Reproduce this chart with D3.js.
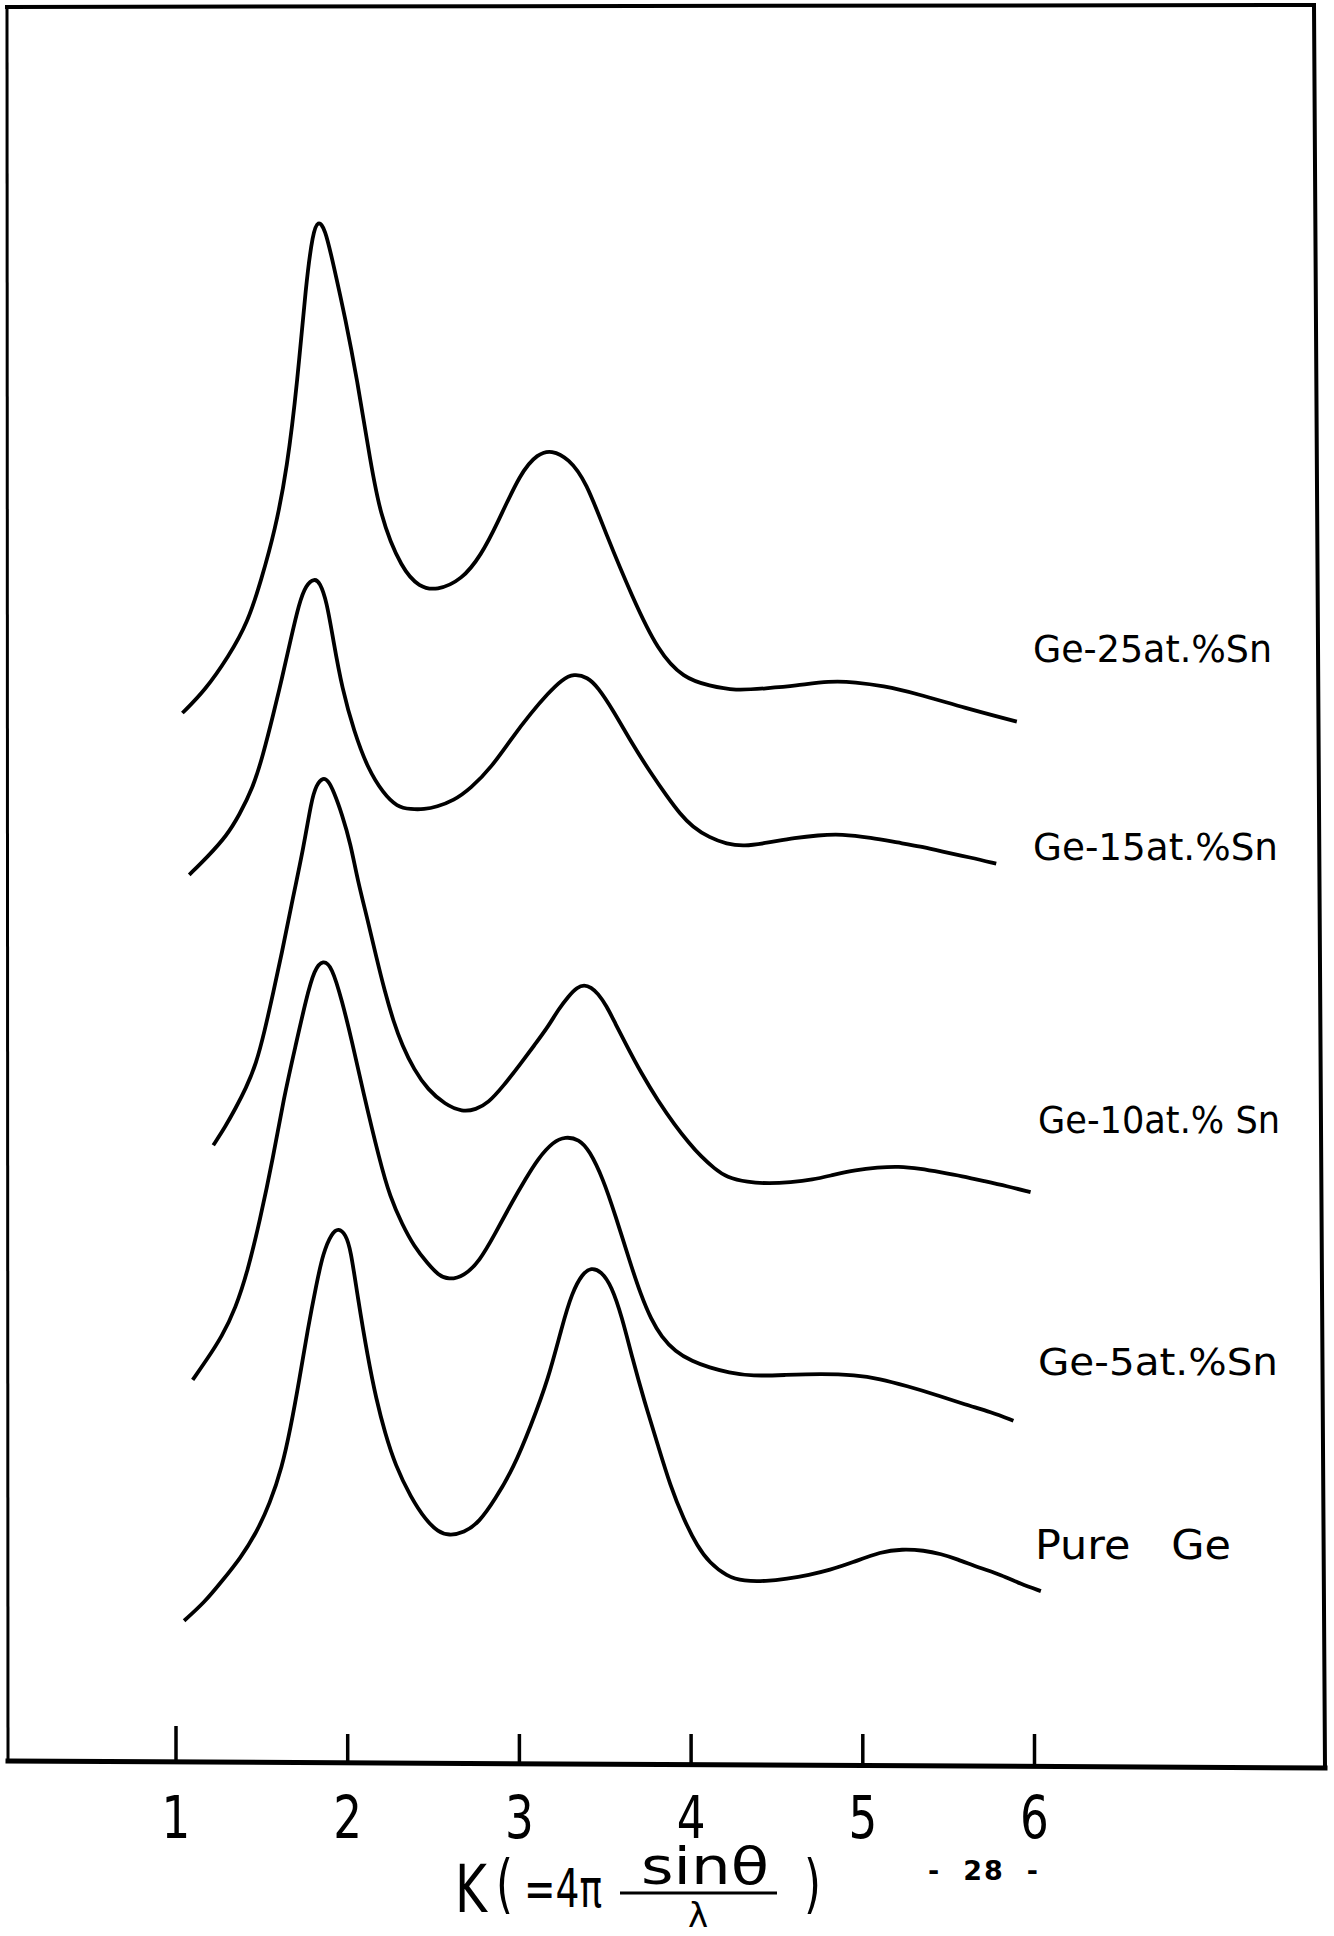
<!DOCTYPE html>
<html>
<head>
<meta charset="utf-8">
<script src="https://cdn.jsdelivr.net/npm/d3@7"></script>
<style>
  html, body { margin: 0; padding: 0; background: #fff; }
  svg { display: block; }
  text { font-family: 'DejaVu Sans', 'Liberation Sans', sans-serif; fill: #000; }
</style>
</head>
<body>
<div id="canvas"></div>
<script>
'use strict';

// Tick values on the K axis
var K_TICKS = [1, 2, 3, 4, 5, 6];

// Curve names, top to bottom
var SERIES_NAMES = ['Ge-25at.%Sn', 'Ge-15at.%Sn', 'Ge-10at.% Sn', 'Ge-5at.%Sn', 'Pure   Ge'];

// Each curve: [K, intensity (arbitrary units, offset already included)]
var GE25 = [
  [1.04, 8.51], [1.17, 8.69], [1.31, 8.97], [1.42, 9.24], [1.50, 9.59], [1.58, 9.99],
  [1.65, 10.49], [1.71, 11.19], [1.76, 11.99], [1.80, 12.40], [1.83, 12.50],
  [1.87, 12.44], [1.92, 12.14], [1.99, 11.70], [2.06, 11.19], [2.12, 10.68], [2.19, 10.10],
  [2.32, 9.67], [2.42, 9.53], [2.52, 9.50], [2.67, 9.59], [2.78, 9.79], [2.87, 10.03],
  [3.01, 10.46], [3.11, 10.61], [3.19, 10.64], [3.29, 10.57], [3.39, 10.39], [3.51, 9.95],
  [3.66, 9.45], [3.81, 9.01], [3.96, 8.79], [4.11, 8.73], [4.26, 8.69], [4.44, 8.71],
  [4.61, 8.73], [4.81, 8.77], [4.96, 8.76], [5.12, 8.73], [5.31, 8.67], [5.60, 8.55],
  [5.90, 8.44]
];

var GE15 = [
  [1.08, 7.20], [1.19, 7.35], [1.30, 7.52], [1.37, 7.68], [1.45, 7.90], [1.51, 8.17],
  [1.57, 8.50], [1.62, 8.79], [1.67, 9.10], [1.72, 9.40], [1.76, 9.55], [1.81, 9.60],
  [1.84, 9.57], [1.88, 9.42], [1.92, 9.09], [1.97, 8.71], [2.04, 8.36], [2.12, 8.06],
  [2.21, 7.86], [2.29, 7.75], [2.37, 7.73], [2.45, 7.73], [2.52, 7.75], [2.62, 7.80],
  [2.72, 7.90], [2.84, 8.07], [2.96, 8.31], [3.07, 8.51], [3.17, 8.67], [3.25, 8.78],
  [3.32, 8.83], [3.40, 8.80], [3.46, 8.72], [3.55, 8.53], [3.66, 8.26], [3.77, 8.02],
  [3.86, 7.84], [3.94, 7.69], [4.01, 7.59], [4.11, 7.50], [4.21, 7.45], [4.31, 7.43],
  [4.45, 7.46], [4.61, 7.50], [4.74, 7.52], [4.88, 7.53], [5.05, 7.50], [5.21, 7.46],
  [5.34, 7.43], [5.46, 7.39], [5.63, 7.34], [5.78, 7.29]
];

var GE10 = [
  [1.22, 5.01], [1.29, 5.16], [1.35, 5.31], [1.41, 5.47], [1.47, 5.67], [1.52, 5.94],
  [1.57, 6.25], [1.62, 6.57], [1.67, 6.92], [1.75, 7.45], [1.79, 7.79], [1.82, 7.93],
  [1.86, 7.99], [1.89, 7.96], [1.92, 7.88], [1.97, 7.69], [2.02, 7.45], [2.06, 7.16],
  [2.12, 6.83], [2.17, 6.53], [2.22, 6.25], [2.27, 6.01], [2.32, 5.82], [2.39, 5.62],
  [2.47, 5.46], [2.57, 5.34], [2.67, 5.28], [2.75, 5.30], [2.82, 5.35], [2.91, 5.49],
  [3.01, 5.67], [3.09, 5.82], [3.17, 5.97], [3.23, 6.11], [3.29, 6.22], [3.34, 6.29],
  [3.38, 6.31], [3.42, 6.29], [3.46, 6.24], [3.51, 6.14], [3.56, 6.00], [3.63, 5.81],
  [3.71, 5.60], [3.81, 5.37], [3.91, 5.17], [3.99, 5.03], [4.06, 4.92], [4.14, 4.82],
  [4.21, 4.75], [4.33, 4.71], [4.46, 4.70], [4.58, 4.71], [4.71, 4.73], [4.83, 4.77],
  [4.96, 4.81], [5.09, 4.83], [5.21, 4.84], [5.34, 4.82], [5.46, 4.79], [5.58, 4.76],
  [5.71, 4.72], [5.84, 4.68], [5.98, 4.63]
];

var GE5 = [
  [1.10, 3.11], [1.18, 3.27], [1.27, 3.46], [1.35, 3.69], [1.42, 3.99], [1.49, 4.39],
  [1.57, 4.92], [1.63, 5.39], [1.70, 5.82], [1.76, 6.19], [1.81, 6.44], [1.86, 6.51],
  [1.91, 6.46], [1.97, 6.18], [2.03, 5.84], [2.09, 5.46], [2.19, 4.88], [2.25, 4.59],
  [2.32, 4.37], [2.39, 4.19], [2.47, 4.05], [2.53, 3.96], [2.59, 3.92], [2.68, 3.95],
  [2.77, 4.07], [2.86, 4.29], [2.96, 4.55], [3.04, 4.74], [3.11, 4.90], [3.20, 5.04],
  [3.27, 5.08], [3.35, 5.06], [3.41, 4.97], [3.49, 4.74], [3.56, 4.45], [3.65, 4.05],
  [3.71, 3.80], [3.77, 3.60], [3.83, 3.46], [3.91, 3.34], [4.01, 3.26], [4.11, 3.21],
  [4.22, 3.17], [4.36, 3.14], [4.55, 3.15], [4.76, 3.16], [4.96, 3.15], [5.10, 3.12],
  [5.26, 3.06], [5.43, 2.99], [5.60, 2.91], [5.75, 2.85], [5.88, 2.78]
];

var PURE_GE = [
  [1.05, 1.16], [1.17, 1.31], [1.27, 1.48], [1.38, 1.67], [1.47, 1.87], [1.55, 2.11],
  [1.62, 2.40], [1.67, 2.72], [1.72, 3.10], [1.77, 3.52], [1.82, 3.88], [1.86, 4.14],
  [1.91, 4.30], [1.95, 4.34], [1.99, 4.29], [2.02, 4.17], [2.06, 3.79], [2.12, 3.29],
  [2.17, 2.95], [2.22, 2.68], [2.28, 2.42], [2.37, 2.16], [2.46, 1.97], [2.53, 1.88],
  [2.59, 1.85], [2.68, 1.87], [2.77, 1.96], [2.86, 2.14], [2.97, 2.40], [3.07, 2.74],
  [3.17, 3.11], [3.25, 3.54], [3.31, 3.82], [3.37, 3.97], [3.42, 4.02], [3.48, 3.99],
  [3.54, 3.87], [3.60, 3.62], [3.66, 3.29], [3.73, 2.94], [3.81, 2.58], [3.88, 2.26],
  [3.96, 1.98], [4.04, 1.76], [4.11, 1.63], [4.21, 1.52], [4.31, 1.48], [4.44, 1.48],
  [4.56, 1.50], [4.69, 1.53], [4.81, 1.57], [4.94, 1.63], [5.11, 1.72], [5.23, 1.74],
  [5.36, 1.73], [5.46, 1.70], [5.55, 1.66], [5.68, 1.59], [5.81, 1.53], [5.92, 1.46],
  [6.04, 1.40]
];

var SERIES = [GE25, GE15, GE10, GE5, PURE_GE];

// Layout constants, pixels
var WIDTH = 1334;
var HEIGHT = 1936;
var AXIS_Y = 1764;
var X_AT_1 = 175.5;
var X_STEP = 171.7;
var Y_UNIT = 123.5;
// label left edge, baseline, stretched width
var LABEL_LAYOUT = [
  [1033, 662, 239], [1033, 860, 245], [1038, 1133, 242], [1038, 1375, 240], [1035, 1559, 196]
];

var x = d3.scaleLinear()
  .domain([1, 6])
  .range([X_AT_1, X_AT_1 + 5 * X_STEP]);

var y = d3.scaleLinear()
  .domain([0, 10])
  .range([AXIS_Y, AXIS_Y - 10 * Y_UNIT]);

var svg = d3.select('#canvas').append('svg')
  .attr('width', WIDTH)
  .attr('height', HEIGHT);

svg.append('rect')
  .attr('width', WIDTH)
  .attr('height', HEIGHT)
  .attr('fill', '#fff');

// hand drawn frame, slightly skewed like the scan
var frame = svg.append('g')
  .attr('fill', 'none')
  .attr('stroke', '#000')
  .attr('stroke-linecap', 'square');
frame.append('path').attr('d', 'M7,7 L1314,5').attr('stroke-width', 4);
frame.append('path').attr('d', 'M7,7 L8,1761').attr('stroke-width', 3);
frame.append('path').attr('d', 'M1314,5 L1325,1768').attr('stroke-width', 4);
frame.append('path').attr('d', 'M8,1761 L1325,1768').attr('stroke-width', 5);

var xAxis = d3.axisBottom(x)
  .tickValues(K_TICKS)
  .tickSize(-30)
  .tickFormat(d3.format('d'));

var axisG = svg.append('g')
  .attr('transform', 'translate(0,' + AXIS_Y + ')')
  .call(xAxis);

axisG.select('.domain').remove();
axisG.selectAll('.tick line')
  .attr('stroke', '#000')
  .attr('stroke-width', 3.5)
  .attr('y2', function(d) { return d === 1 ? -38 : -30; });
axisG.selectAll('.tick text')
  .attr('y', 74)
  .attr('dy', null)
  .attr('font-size', 58)
  .attr('font-family', "'DejaVu Sans', sans-serif")
  .attr('transform', 'scale(0.78,1)')
  .attr('fill', '#000');

var line = d3.line()
  .x(function(d) { return x(d[0]); })
  .y(function(d) { return y(d[1]); })
  .curve(d3.curveBasis);

svg.append('g')
  .selectAll('path')
  .data(SERIES)
  .enter()
  .append('path')
  .attr('d', line)
  .attr('fill', 'none')
  .attr('stroke', '#000')
  .attr('stroke-width', 3.8)
  .attr('stroke-linejoin', 'round');

svg.append('g')
  .selectAll('text')
  .data(SERIES_NAMES)
  .enter()
  .append('text')
  .text(function(d) { return d; })
  .attr('x', function(d, i) { return LABEL_LAYOUT[i][0]; })
  .attr('y', function(d, i) { return LABEL_LAYOUT[i][1]; })
  .attr('textLength', function(d, i) { return LABEL_LAYOUT[i][2]; })
  .attr('lengthAdjust', 'spacingAndGlyphs')
  .attr('font-size', function(d, i) { return i === 4 ? 40 : 37; })
  .style('white-space', 'pre');

// axis title: K (=4π sinθ/λ )
var title = svg.append('g');
title.append('text').text('K')
  .attr('x', 455).attr('y', 1912)
  .attr('font-size', 66).attr('textLength', 32).attr('lengthAdjust', 'spacingAndGlyphs');
title.append('text').text('(')
  .attr('x', 496).attr('y', 1906)
  .attr('font-size', 64).attr('textLength', 17).attr('lengthAdjust', 'spacingAndGlyphs');
title.append('text').text('=4π')
  .attr('x', 524).attr('y', 1907)
  .attr('font-size', 54).attr('textLength', 78).attr('lengthAdjust', 'spacingAndGlyphs');
title.append('text').text('sinθ')
  .attr('x', 641).attr('y', 1884)
  .attr('font-size', 52).attr('textLength', 128).attr('lengthAdjust', 'spacingAndGlyphs');
title.append('line')
  .attr('x1', 620).attr('x2', 777)
  .attr('y1', 1893).attr('y2', 1893)
  .attr('stroke', '#000').attr('stroke-width', 3);
title.append('text').text('λ')
  .attr('x', 698).attr('y', 1927)
  .attr('text-anchor', 'middle')
  .attr('font-size', 34);
title.append('text').text(')')
  .attr('x', 804).attr('y', 1906)
  .attr('font-size', 64).attr('textLength', 17).attr('lengthAdjust', 'spacingAndGlyphs');

// page number
svg.append('text').text('-  28  -')
  .attr('x', 928).attr('y', 1880)
  .attr('font-size', 27)
  .attr('font-weight', 'bold')
  .attr('textLength', 110).attr('lengthAdjust', 'spacing')
  .style('white-space', 'pre');
</script>
</body>
</html>
